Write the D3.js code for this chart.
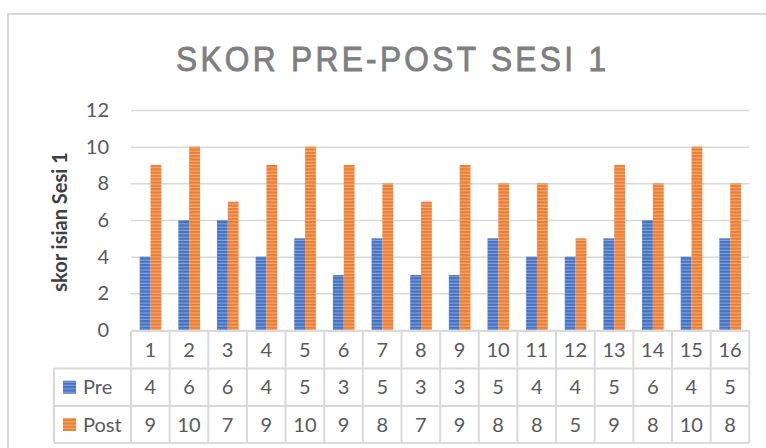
<!DOCTYPE html>
<html>
<head>
<meta charset="utf-8">
<script src="https://cdn.jsdelivr.net/npm/d3@7/dist/d3.min.js"></script>
<style>
    html, body { margin: 0; padding: 0; background: #fff; }
    svg { display: block; }
    .tick text, .cell-text, .legend-label { font-family: Lato, "Open Sans", sans-serif; fill: #595959; }
</style>
</head>
<body>
<div id="chart"></div>
<script>
const categories = ['1', '2', '3', '4', '5', '6', '7', '8', '9', '10', '11', '12', '13', '14', '15', '16'];
const preValues = [4, 6, 6, 4, 5, 3, 5, 3, 3, 5, 4, 4, 5, 6, 4, 5];
const postValues = [9, 10, 7, 9, 10, 9, 8, 7, 9, 8, 8, 5, 9, 8, 10, 8];
const seriesNames = ['Pre', 'Post'];
const yTicks = [0, 2, 4, 6, 8, 10, 12];
const titleText = 'SKOR PRE-POST SESI 1';
const yTitle = 'skor isian Sesi 1';

const width = 766;
const height = 448;
const plot = { left: 131, right: 749.3, top: 110, bottom: 330 };
const tableRows = [331, 368.5, 406, 443];
const legendLeft = 54;
const gridColor = '#d9d9d9';
const colors = { Pre: ['#4472c4', '#86a3db'], Post: ['#ed7d31', '#f5ac7c'] };

const series = seriesNames.map(name => ({
    name,
    values: name === 'Pre' ? preValues : postValues
}));

const svg = d3.select('#chart')
    .append('svg')
    .attr('width', width)
    .attr('height', height);

// striped fills, like the Excel pattern fill
const defs = svg.append('defs');
for (const name of seriesNames) {
    const pattern = defs.append('pattern')
        .attr('id', `stripe-${name}`)
        .attr('patternUnits', 'userSpaceOnUse')
        .attr('width', 4)
        .attr('height', 3.3);
    pattern.append('rect').attr('width', 4).attr('height', 3.3).attr('fill', colors[name][0]);
    pattern.append('rect').attr('y', 2.2).attr('width', 4).attr('height', 1.1).attr('fill', colors[name][1]);
}

// chart frame
svg.append('rect')
    .attr('x', 8)
    .attr('y', 14)
    .attr('width', 770)
    .attr('height', 450)
    .attr('fill', '#fff')
    .attr('stroke', gridColor)
    .attr('stroke-width', 2);

// condensed, letter-spaced title
const titleScale = 0.88;
svg.append('text')
    .attr('transform', `translate(391,71) scale(${titleScale},1)`)
    .attr('text-anchor', 'middle')
    .attr('font-family', '"Liberation Sans", Arial, sans-serif')
    .attr('font-size', 36)
    .attr('fill', '#7f7f7f')
    .attr('stroke', '#7f7f7f')
    .attr('stroke-width', 0.9)
    .attr('textLength', 430 / titleScale)
    .attr('lengthAdjust', 'spacing')
    .text(titleText);

const x = d3.scaleBand()
    .domain(categories)
    .range([plot.left, plot.right]);

const x1 = d3.scaleBand()
    .domain(seriesNames)
    .range([x.bandwidth() * 0.225, x.bandwidth() * 0.785]);

const y = d3.scaleLinear()
    .domain([0, 12])
    .range([plot.bottom, plot.top]);

const yAxis = svg.append('g')
    .attr('transform', `translate(${plot.left},0)`)
    .call(d3.axisLeft(y)
        .tickValues(yTicks)
        .tickSize(-(plot.right - plot.left))
        .tickPadding(22));

yAxis.select('.domain').remove();
yAxis.selectAll('.tick line')
    .attr('stroke', gridColor)
    .attr('stroke-width', 1.5);
yAxis.selectAll('.tick text')
    .attr('font-size', 20);

svg.append('text')
    .attr('transform', `translate(67,${(plot.top + plot.bottom) / 2 + 2}) rotate(-90)`)
    .attr('text-anchor', 'middle')
    .attr('font-family', 'Lato, "Open Sans", sans-serif')
    .attr('font-size', 20)
    .attr('font-weight', 'bold')
    .attr('fill', '#404040')
    .text(yTitle);

const groups = svg.append('g')
    .selectAll('g')
    .data(categories)
    .join('g')
    .attr('transform', d => `translate(${x(d)},0)`);

groups.selectAll('rect')
    .data((d, i) => series.map(s => ({ name: s.name, value: s.values[i] })))
    .join('rect')
    .attr('x', d => x1(d.name))
    .attr('y', d => y(d.value))
    .attr('width', x1.bandwidth())
    .attr('height', d => y(0) - y(d.value))
    .attr('fill', d => `url(#stripe-${d.name})`);

// data table under the plot
const table = svg.append('g')
    .attr('fill', 'none')
    .attr('stroke', gridColor)
    .attr('stroke-width', 2);

table.append('line')
    .attr('x1', plot.left).attr('x2', plot.right)
    .attr('y1', tableRows[0]).attr('y2', tableRows[0]);

for (let r = 1; r < tableRows.length; r++) {
    table.append('line')
        .attr('x1', legendLeft).attr('x2', plot.right)
        .attr('y1', tableRows[r]).attr('y2', tableRows[r]);
}

table.append('line')
    .attr('x1', legendLeft).attr('x2', legendLeft)
    .attr('y1', tableRows[1]).attr('y2', tableRows[3]);

table.selectAll('.col-line')
    .data(categories.concat(['end']))
    .join('line')
    .attr('x1', d => d === 'end' ? plot.right : x(d))
    .attr('x2', d => d === 'end' ? plot.right : x(d))
    .attr('y1', tableRows[0])
    .attr('y2', tableRows[3]);

const cellCenter = r => (tableRows[r] + tableRows[r + 1]) / 2;

svg.append('g')
    .selectAll('text')
    .data(categories)
    .join('text')
    .attr('class', 'cell-text')
    .attr('x', d => x(d) + x.bandwidth() / 2)
    .attr('y', cellCenter(0))
    .attr('dy', '0.36em')
    .attr('text-anchor', 'middle')
    .attr('font-size', 20)
    .text(d => d);

series.forEach((s, si) => {
    const row = si + 1;
    svg.append('g')
        .selectAll('text')
        .data(s.values)
        .join('text')
        .attr('class', 'cell-text')
        .attr('x', (d, i) => x(categories[i]) + x.bandwidth() / 2)
        .attr('y', cellCenter(row))
        .attr('dy', '0.36em')
        .attr('text-anchor', 'middle')
        .attr('font-size', 20)
        .text(d => d);

    svg.append('rect')
        .attr('x', 63)
        .attr('y', cellCenter(row) - 6.5)
        .attr('width', 13)
        .attr('height', 13)
        .attr('fill', `url(#stripe-${s.name})`);

    svg.append('text')
        .attr('class', 'legend-label')
        .attr('x', 83)
        .attr('y', cellCenter(row))
        .attr('dy', '0.36em')
        .attr('font-size', 20)
        .text(s.name);
});
</script>
</body>
</html>
